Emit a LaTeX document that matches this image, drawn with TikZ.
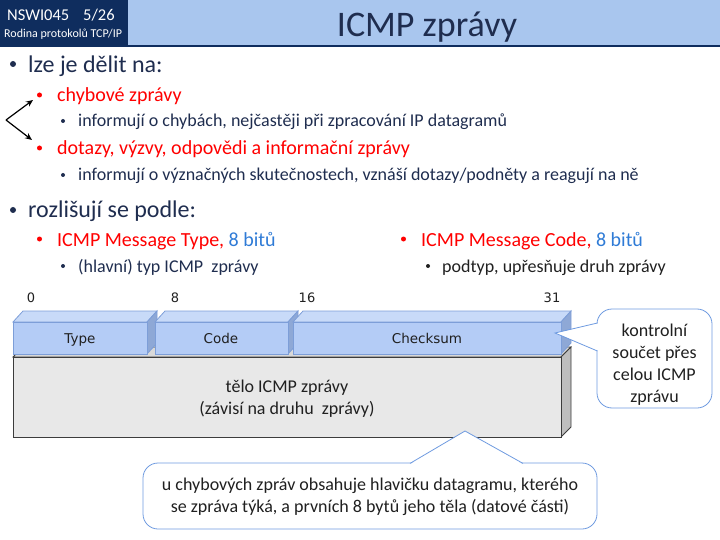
\documentclass[tikz,border=0pt]{standalone}
\usepackage{fontspec}
\setmainfont{Carlito}
\newfontfamily\tahoma{DejaVu Sans}
\usetikzlibrary{arrows.meta,calc}
\definecolor{navy}{HTML}{0F2D5E}
\definecolor{band}{HTML}{A9C6EE}
\definecolor{txt}{HTML}{1F2D4F}
\definecolor{myred}{HTML}{FF0000}
\definecolor{myblue}{HTML}{2F7BD6}
\definecolor{bfront}{HTML}{B4CCF6}
\definecolor{btop}{HTML}{C8DAF8}
\definecolor{bside}{HTML}{8EA8D6}
\definecolor{bedge}{HTML}{7D9ED8}
\definecolor{gfront}{HTML}{E8E8E8}
\definecolor{gside}{HTML}{BEBEBE}
\definecolor{gtop}{HTML}{D9D9D9}
\definecolor{gedge}{HTML}{3C3C3C}
\definecolor{cedge}{HTML}{6F9BE0}
\definecolor{ink}{HTML}{202020}
\tikzset{
  lvlone/.style={anchor=base west, inner sep=0pt, font=\fontsize{24}{28}\selectfont, text=txt},
  lvltwo/.style={anchor=base west, inner sep=0pt, font=\fontsize{20}{24}\selectfont, text=myred},
  lvlthree/.style={anchor=base west, inner sep=0pt, font=\fontsize{18}{22}\selectfont, text=txt},
  dotone/.style={circle, inner sep=0pt, minimum size=6pt, fill=txt},
  dottwo/.style={circle, inner sep=0pt, minimum size=5pt, fill=myred},
  dotthree/.style={circle, inner sep=0pt, minimum size=4pt, fill=txt},
  numlab/.style={anchor=base, inner sep=0pt, font=\tahoma\fontsize{13}{15}\selectfont, text=ink},
  boxlab/.style={anchor=base, inner sep=0pt, font=\tahoma\fontsize{13.5}{15}\selectfont, text=ink},
  bluefront/.style={fill=bfront, draw=bedge, line width=0.8pt},
  bluetop/.style={fill=btop, draw=bedge, line width=0.8pt},
  blueside/.style={fill=bside, draw=bedge, line width=0.8pt},
  greyface/.style={draw=gedge, line width=0.8pt},
  callout/.style={draw=cedge, line width=0.8pt, fill=white},
  calltext/.style={align=center, inner sep=0pt, font=\fontsize{18}{22}\selectfont, text=ink},
  splitarrow/.style={-{Stealth[length=7pt,width=6pt]}, line width=1.2pt, black}
}
\begin{document}
\begin{tikzpicture}[x=1pt,y=-1pt]
\useasboundingbox (0,0) rectangle (720,540);
% header
\fill[band] (128,0) rectangle (720,45);
\fill[navy] (0,45) rectangle (720,47);
\fill[navy] (0,0) rectangle (128,47);
\node[anchor=base west, inner sep=0pt, text=white, font=\fontsize{16.5}{18}\selectfont] (course) at (7,21) {NSWI045\hspace{14pt}5/26};
\node[anchor=base west, inner sep=0pt, text=white, font=\fontsize{12}{14}\selectfont] (sub) at (4,37.5) {Rodina protokolů TCP/IP};
\node[anchor=base, inner sep=0pt, text=txt, font=\fontsize{36}{40}\selectfont] (title) at (427,37) {ICMP zprávy};
% bullets, section 1
\node[dotone] (b1) at (13,64) {};
\node[lvlone] (t1) at (28,73) {lze je dělit na:};
\node[dottwo] (b2) at (39.5,95) {};
\node[lvltwo] (t2) at (57,102) {chybové zprávy};
\node[dotthree] (b3) at (63,121) {};
\node[lvlthree] (t3) at (78,127) {informují o chybách, nejčastěji při zpracování IP datagramů};
\node[dottwo] (b4) at (39.5,148) {};
\node[lvltwo] (t4) at (57,155) {dotazy, výzvy, odpovědi a informační zprávy};
\node[dotthree] (b5) at (63,175) {};
\node[lvlthree] (t5) at (78,181) {informují o význačných skutečnostech, vznáší dotazy/podněty a reagují na ně};
% split arrow
\coordinate (vx) at (6,120);
\coordinate (ta) at (33,100);
\coordinate (tb) at (32,140);
\draw[splitarrow] (vx) -- (ta);
\draw[splitarrow] (vx) -- (tb);
% section 2
\node[dotone] (b6) at (13,210) {};
\node[lvlone] (t6) at (28,218) {rozlišují se podle:};
\node[dottwo] (b7) at (39.5,239) {};
\node[lvltwo] (t7) at (57,246) {ICMP Message Type, \textcolor{myblue}{8 bitů}};
\node[dotthree] (b8) at (63,266) {};
\node[lvlthree] (t8) at (78,272) {(hlavní) typ ICMP\ \ zprávy};
\node[dottwo] (b9) at (403.5,239) {};
\node[lvltwo] (t9) at (421,246) {ICMP Message Code, \textcolor{myblue}{8 bitů}};
\node[dotthree, fill=ink] (b10) at (428,266) {};
\node[lvlthree, text=ink] (t10) at (442,272) {podtyp, upřesňuje druh zprávy};
% bit numbers
\node[numlab] (n0) at (31,302) {0};
\node[numlab] (n8) at (175,302) {8};
\node[numlab] (n16) at (307,302) {16};
\node[numlab] (n31) at (552,302) {31};
% grey body box
\draw[greyface, fill=gtop] (13,357) -- (23,347) -- (571,347) -- (561,357) -- cycle;
\draw[greyface, fill=gside] (561,357) -- (571,347) -- (571,427) -- (561,437) -- cycle;
\draw[greyface, fill=gfront] (13,357) rectangle (561,437);
\node[calltext] (body) at (287,399) {tělo ICMP zprávy\\(závisí na druhu\ \ zprávy)};
% blue header boxes
\draw[bluetop] (13,322) -- (23,311) -- (157,311) -- (147,322) -- cycle;
\draw[blueside] (147,322) -- (157,311) -- (157,343) -- (147,354) -- cycle;
\draw[bluefront] (13,322) rectangle (147,354);
\node[boxlab] (type) at (80,343) {Type};
\draw[bluetop] (155,322) -- (165,311) -- (298,311) -- (288,322) -- cycle;
\draw[blueside] (288,322) -- (298,311) -- (298,343) -- (288,354) -- cycle;
\draw[bluefront] (155,322) rectangle (288,354);
\node[boxlab] (code) at (221,343) {Code};
\draw[bluetop] (293,322) -- (303,311) -- (571,311) -- (561,322) -- cycle;
\draw[blueside] (561,322) -- (571,311) -- (571,343) -- (561,354) -- cycle;
\draw[bluefront] (293,322) rectangle (561,354);
\node[boxlab] (csum) at (427,343) {Checksum};
% right callout
\node[callout, rounded corners=15pt, minimum width=115pt, minimum height=99pt, inner sep=0pt] (cr) at (654.5,358.5) {};
\coordinate (crtip) at (555,333);
\fill[white] (598,323.5) -- (crtip) -- (598,350.5) -- cycle;
\draw[draw=cedge, line width=0.8pt] (597.4,323) -- (crtip) -- (597.4,351);
\node[calltext] (crtext) at (654.5,365) {kontrolní\\součet přes\\celou ICMP\\zprávu};
% bottom callout
\node[callout, rounded corners=15pt, minimum width=454pt, minimum height=66pt, inner sep=0pt] (cb) at (370,496) {};
\coordinate (cbtip) at (465,431);
\fill[white] (411,463.8) -- (cbtip) -- (522,463.8) -- cycle;
\draw[draw=cedge, line width=0.8pt] (410,463.4) -- (cbtip) -- (523,463.4);
\node[calltext] (cbtext) at (370,497) {u chybových zpráv obsahuje hlavičku datagramu, kterého\\se zpráva týká, a prvních 8 bytů jeho těla (datové části)};
\end{tikzpicture}
\end{document}
